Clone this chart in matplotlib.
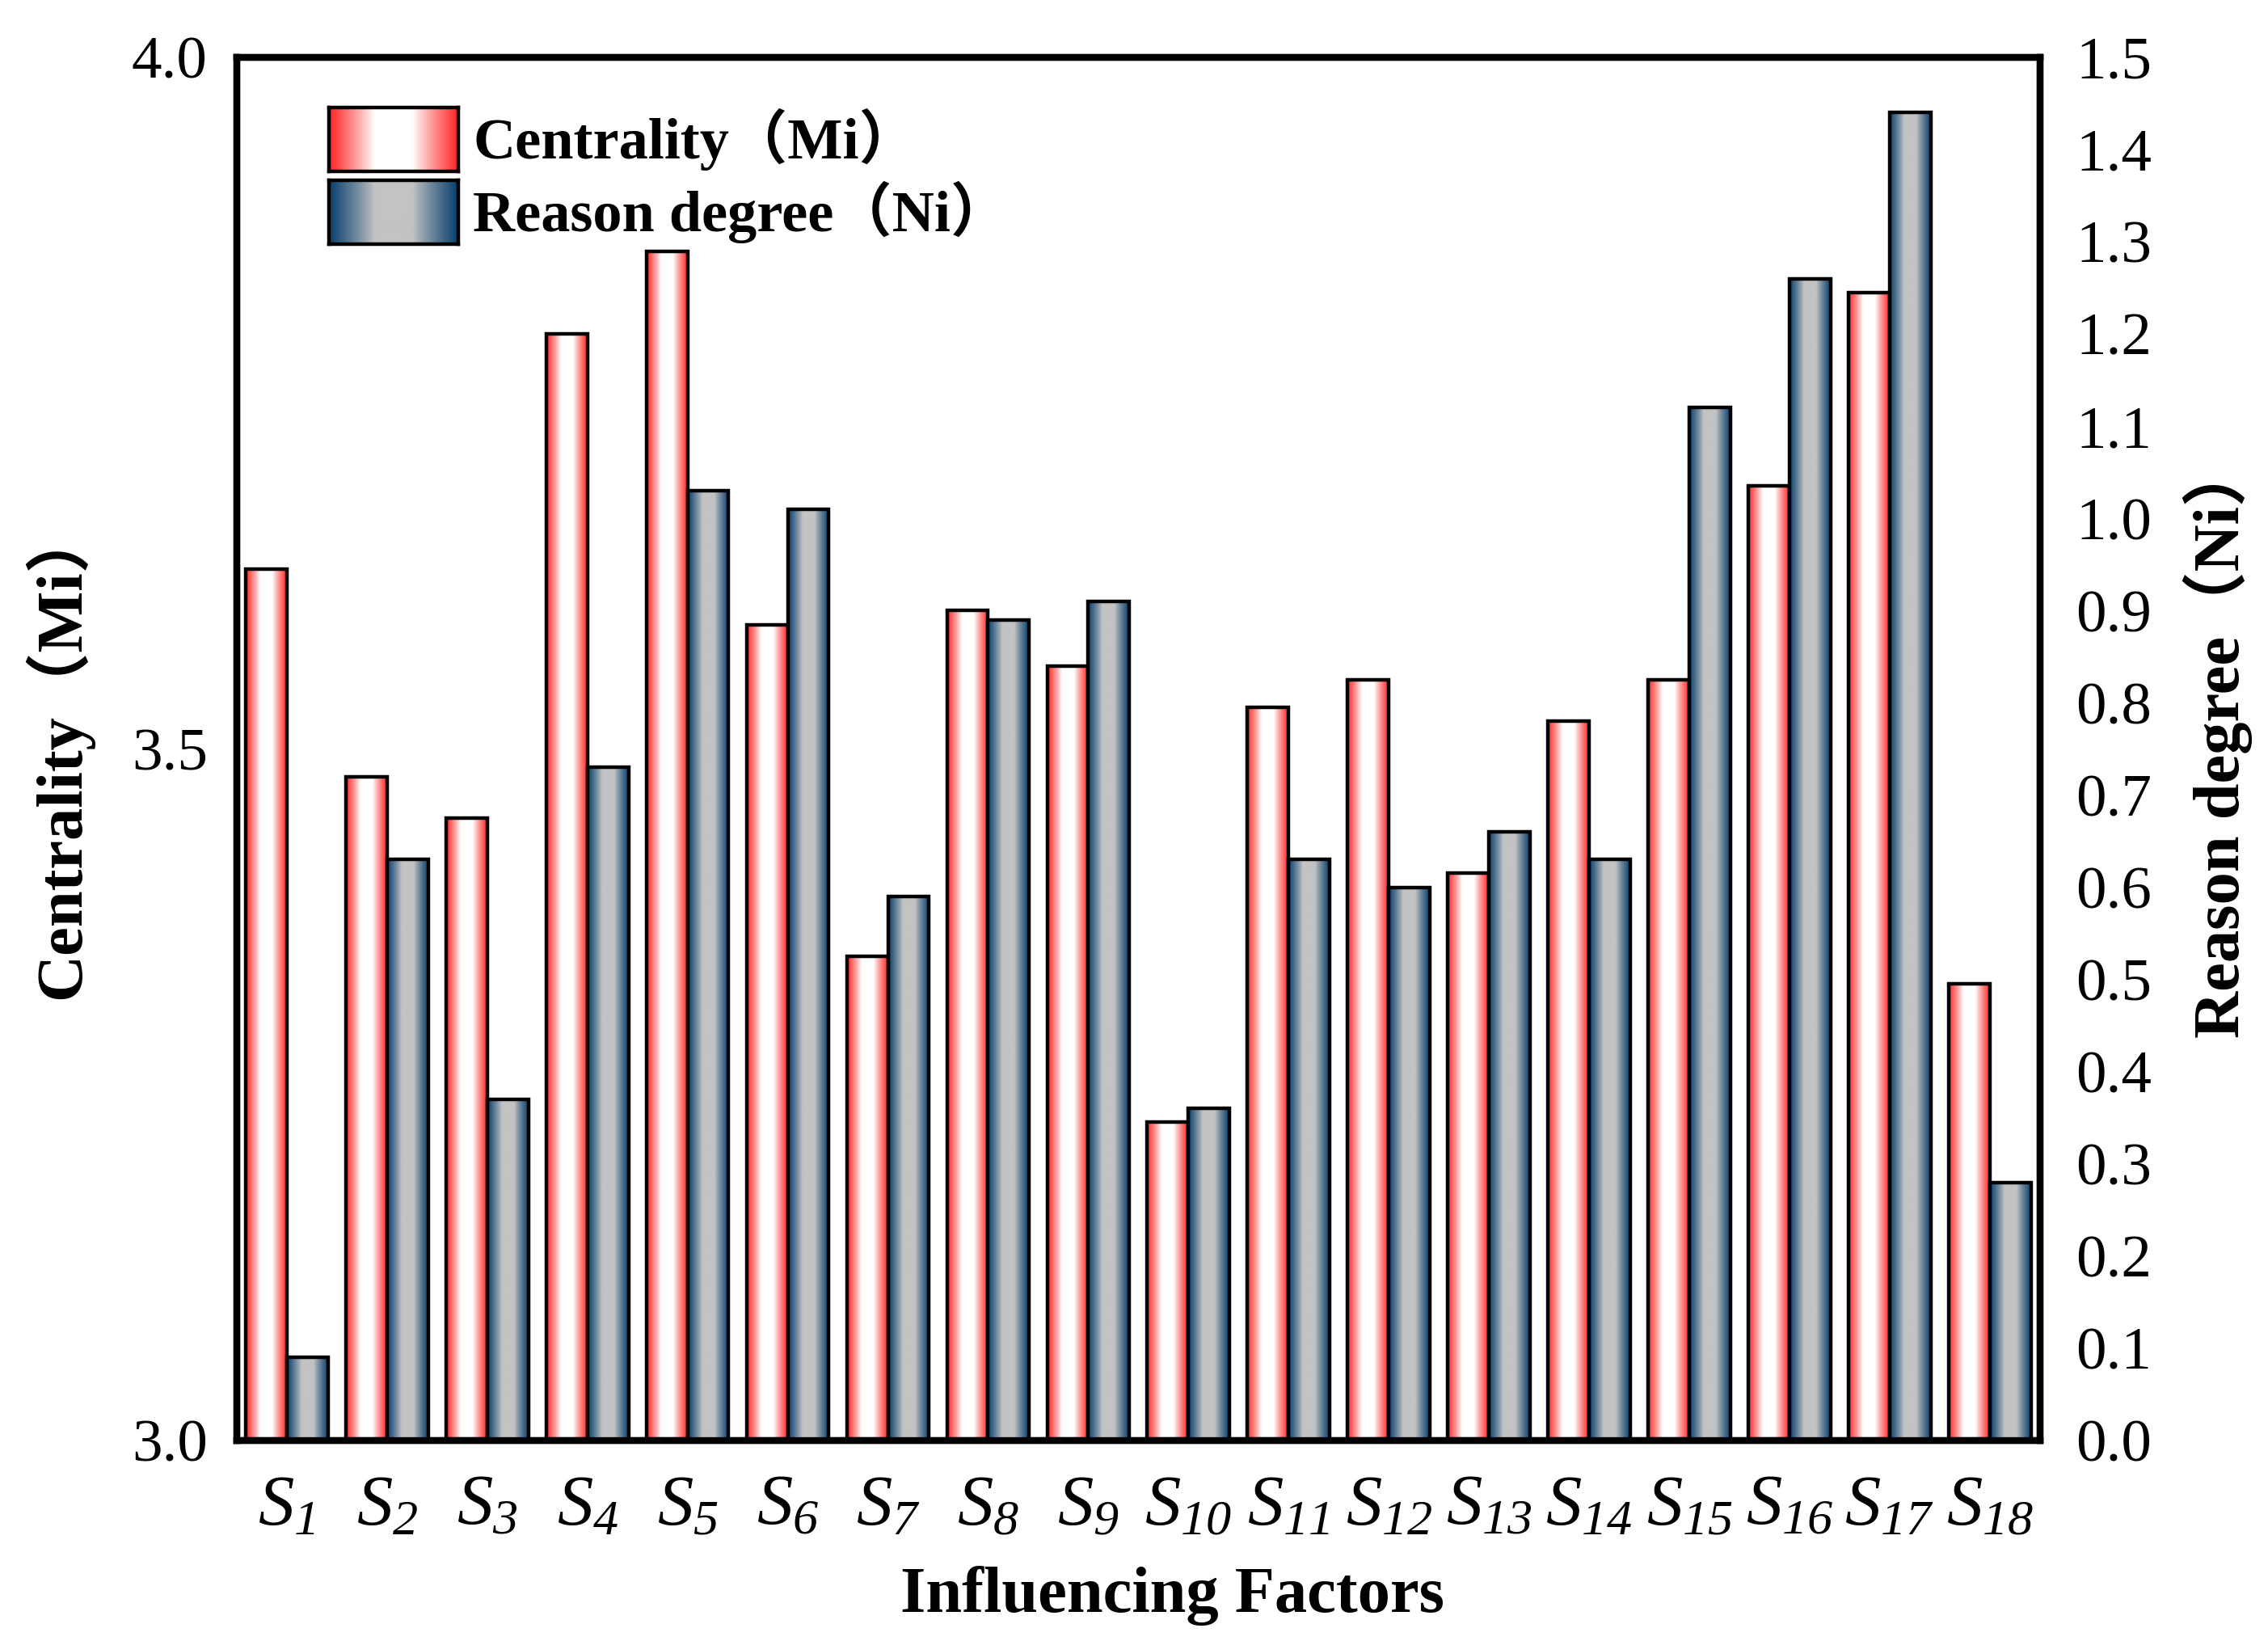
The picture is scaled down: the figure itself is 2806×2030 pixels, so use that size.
import numpy as np
import matplotlib
matplotlib.use("Agg")
import matplotlib.pyplot as plt

factors = ["S%d" % i for i in range(1, 19)]
centrality = [3.63, 3.48, 3.45, 3.80, 3.86, 3.59, 3.35, 3.60, 3.56,
              3.23, 3.53, 3.55, 3.41, 3.52, 3.55, 3.69, 3.83, 3.33]
reason = [0.09, 0.63, 0.37, 0.73, 1.03, 1.01, 0.59, 0.89, 0.91,
          0.36, 0.63, 0.60, 0.66, 0.63, 1.12, 1.26, 1.44, 0.28]
mi_ticks = [3.0, 3.5, 4.0]
ni_ticks = np.round(np.arange(0, 1.51, 0.1), 1)

serif = ["Liberation Serif", "Noto Sans CJK SC"]
plt.rcParams["font.family"] = serif
# only the S_i tick labels use mathtext, and they are italic throughout
plt.rcParams["mathtext.fontset"] = "custom"
plt.rcParams["mathtext.it"] = "Liberation Serif:italic"
plt.rcParams["mathtext.rm"] = "Liberation Serif:italic"


def gradient(edge, mid, n=64):
    # colour across the bar: edge -> mid -> edge
    t = np.linspace(0, 1, n)
    d = np.abs(t - 0.5) * 2
    f = np.clip((d - 0.3) / 0.7, 0, 1) ** 0.9
    edge = np.array(edge) / 255.0
    mid = np.array(mid) / 255.0
    g = mid[None, :] * (1 - f[:, None]) + edge[None, :] * f[:, None]
    return g[None, :, :]


red_grad = gradient((255, 40, 40), (255, 255, 255))
blue_grad = gradient((10, 65, 110), (195, 195, 195))

fig = plt.figure(figsize=(14.03, 10.15), dpi=200)
ax = fig.add_axes([0.1044, 0.1222, 0.795, 0.8428])
ax2 = ax.twinx()

x = np.arange(len(factors))
w = 0.41
mi = np.array(centrality)
ni = np.array(reason)

b1 = ax.bar(x - w / 2, mi - 3.0, w, bottom=3.0, facecolor="none",
            edgecolor="black", linewidth=1.6, zorder=3)
b2 = ax2.bar(x + w / 2, ni, w, facecolor="none",
             edgecolor="black", linewidth=1.6, zorder=3)
for p in b1.patches:
    ax.imshow(red_grad, extent=[p.get_x(), p.get_x() + p.get_width(),
                                p.get_y(), p.get_y() + p.get_height()],
              aspect="auto", interpolation="bilinear", zorder=2)
for p in b2.patches:
    ax2.imshow(blue_grad, extent=[p.get_x(), p.get_x() + p.get_width(),
                                  p.get_y(), p.get_y() + p.get_height()],
               aspect="auto", interpolation="bilinear", zorder=2)

ax.set_xlim(-0.5, len(factors) - 0.5)
ax.set_ylim(3.0, 4.0)
ax2.set_ylim(0, 1.5)

ax.set_yticks(mi_ticks)
ax.set_yticklabels(["%.1f" % v for v in mi_ticks])
ax2.set_yticks(ni_ticks)
ax2.set_yticklabels(["%.1f" % v for v in ni_ticks])
ax.set_xticks(x)
ax.set_xticklabels([r"$S_{%d}$" % i for i in range(1, 19)])

ax.tick_params(axis="y", length=0, labelsize=27, pad=13)
ax2.tick_params(axis="y", length=0, labelsize=27, pad=16)
ax.tick_params(axis="x", length=0, labelsize=32, pad=15)

for a in (ax, ax2):
    for s in a.spines.values():
        s.set_linewidth(3)

ax.set_xlabel("Influencing Factors", fontsize=29, fontweight="bold",
              va="center", ha="center")
ax.xaxis.set_label_coords(0.519, -0.112)
ax.set_ylabel("Centrality（Mi）", fontsize=29, fontweight="bold",
              va="center", ha="center")
ax.yaxis.set_label_coords(-0.099, 0.498)
ax2.set_ylabel("Reason degree（Ni）", fontsize=29, fontweight="bold",
               va="center", ha="center", rotation=90)
ax2.yaxis.set_label_coords(1.0986, 0.507)

# legend drawn by hand so the swatches keep their gradient
legend_items = [("Centrality（Mi）", red_grad, 0.8956),
                ("Reason degree（Ni）", blue_grad, 0.8512)]
for label, grad, y0 in legend_items:
    sw = fig.add_axes([0.145, y0, 0.057, 0.039])
    sw.imshow(grad, aspect="auto", interpolation="bilinear")
    sw.set_xticks([])
    sw.set_yticks([])
    for s in sw.spines.values():
        s.set_linewidth(1.6)
    fig.text(0.2085, y0 + 0.0195, label, fontsize=26, fontweight="bold",
             va="center", ha="left")

fig.savefig("out.png", dpi=200)
